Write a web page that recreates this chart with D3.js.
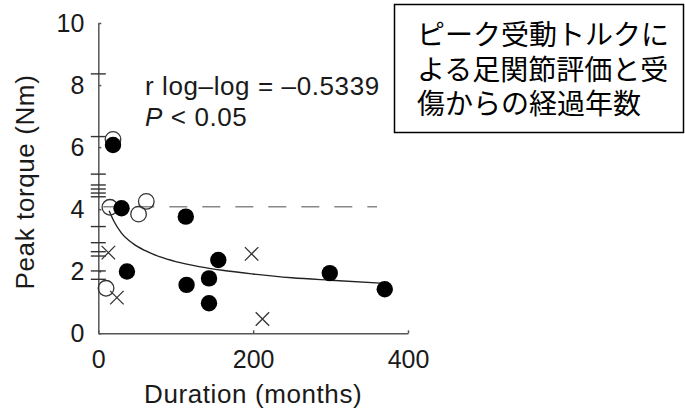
<!DOCTYPE html>
<html lang="ja">
<head>
<meta charset="UTF-8">
<title>Peak torque vs duration</title>
<style>
    body { margin: 0; background: #fff; }
    svg { display: block; }
    .axis text { font-family: "Liberation Sans", Arial, sans-serif; font-size: 25px; fill: #1a1a1a; }
    .axis path, .axis line { stroke: #555; stroke-width: 1.5; }
    .lab { font-family: "Liberation Sans", Arial, sans-serif; font-size: 26px; letter-spacing: 0.6px; fill: #1a1a1a; }
</style>
</head>
<body>
<script src="https://cdn.jsdelivr.net/npm/d3@7/dist/d3.min.js"></script>
<script>
    // values
    var xTicks = [0, 200, 400];
    var yTicks = [0, 2, 4, 6, 8, 10];

    var filledX = [19, 30, 113, 37, 114, 143, 143, 155, 299, 370];
    var filledY = [6.07, 4.03, 3.76, 1.99, 1.56, 1.77, 0.97, 2.36, 1.94, 1.42];

    var openX = [19, 15, 52, 62, 10];
    var openY = [6.25, 4.06, 3.84, 4.25, 1.45];

    var crossX = [13, 24, 198, 212];
    var crossY = [2.6, 1.15, 2.56, 0.46];

    // short horizontal marks sitting on the y axis
    var dashY = [8.36, 6.34, 5.13, 4.78, 4.65, 4.52, 4.40, 3.44, 2.92, 2.63, 2.49, 2.01, 1.74];

    var refLevel = 4.08;
    var refEnd = 360;

    var fitX = [14, 20, 30, 45, 60, 80, 100, 130, 160, 200, 250, 300, 370];
    var fitY = [3.95, 3.62, 3.23, 2.89, 2.67, 2.46, 2.31, 2.15, 2.03, 1.91, 1.79, 1.71, 1.61];

    var titleLines = ["ピーク受動トルクに", "よる足関節評価と受", "傷からの経過年数"];

    var w = 685, h = 408;
    var svg = d3.select("body").append("svg").attr("width", w).attr("height", h);
    svg.append("rect").attr("width", w).attr("height", h).attr("fill", "#fff");

    var x = d3.scaleLinear().domain([0, 400]).range([98.3, 408]);
    var y = d3.scaleLinear().domain([0, 10]).range([333.3, 23]);

    svg.append("g").attr("class", "axis")
        .attr("transform", "translate(0," + y(0) + ")")
        .call(d3.axisBottom(x).tickValues(xTicks).tickSizeInner(-3).tickSizeOuter(0).tickPadding(17));
    svg.append("g").attr("class", "axis")
        .attr("transform", "translate(" + x(0) + ",0)")
        .call(d3.axisLeft(y).tickValues(yTicks).tickSizeInner(-3).tickSizeOuter(0).tickPadding(14));

    // axis titles
    svg.append("text")
        .attr("class", "lab")
        .attr("x", x(200)).attr("y", 403)
        .attr("text-anchor", "middle")
        .text("Duration (months)");
    svg.append("text")
        .attr("class", "lab")
        .attr("transform", "translate(34,182) rotate(-90)")
        .attr("text-anchor", "middle")
        .text("Peak torque (Nm)");

    // dash marks on the axis
    svg.selectAll("line.dash")
        .data(dashY)
        .enter()
        .append("line")
        .attr("class", "dash")
        .attr("x1", x(0) - 7.5).attr("x2", x(0) + 7.5)
        .attr("y1", function(d){ return y(d); })
        .attr("y2", function(d){ return y(d); })
        .attr("stroke", "#333").attr("stroke-width", 1.4);

    // reference level
    svg.append("line")
        .attr("x1", x(0)).attr("x2", x(refEnd))
        .attr("y1", y(refLevel)).attr("y2", y(refLevel))
        .attr("stroke", "#888").attr("stroke-width", 1.5)
        .attr("stroke-dasharray", "18,15")
        .attr("stroke-dashoffset", -5);

    // fitted curve
    var fit = d3.zip(fitX, fitY);
    svg.append("path")
        .datum(fit)
        .attr("d", d3.line()
            .x(function(d){ return x(d[0]); })
            .y(function(d){ return y(d[1]); })
            .curve(d3.curveMonotoneX))
        .attr("fill", "none").attr("stroke", "#222").attr("stroke-width", 1.4);

    // open circles
    svg.selectAll("circle.open")
        .data(d3.zip(openX, openY))
        .enter()
        .append("circle")
        .attr("class", "open")
        .attr("cx", function(d){ return x(d[0]); })
        .attr("cy", function(d){ return y(d[1]); })
        .attr("r", 7.8)
        .attr("fill", "none").attr("stroke", "#333").attr("stroke-width", 1.3);

    // crosses
    var cross = d3.symbol().type(d3.symbolX).size(120);
    svg.selectAll("path.cross")
        .data(d3.zip(crossX, crossY))
        .enter()
        .append("path")
        .attr("class", "cross")
        .attr("d", cross)
        .attr("transform", function(d){ return "translate(" + x(d[0]) + "," + y(d[1]) + ")"; })
        .attr("fill", "none").attr("stroke", "#333").attr("stroke-width", 1.3);

    // filled circles
    svg.selectAll("circle.filled")
        .data(d3.zip(filledX, filledY))
        .enter()
        .append("circle")
        .attr("class", "filled")
        .attr("cx", function(d){ return x(d[0]); })
        .attr("cy", function(d){ return y(d[1]); })
        .attr("r", 8.2)
        .attr("fill", "#000");

    // statistics
    svg.append("text").attr("class", "lab").attr("x", 145).attr("y", 95)
        .text("r log\u2013log = \u20130.5339");
    var p = svg.append("text").attr("class", "lab").attr("x", 145).attr("y", 126);
    p.append("tspan").attr("font-style", "italic").text("P");
    p.append("tspan").text(" < 0.05");

    // title box, one text block with a line per tspan
    svg.append("rect")
        .attr("x", 394.5).attr("y", 4.5)
        .attr("width", 289).attr("height", 128)
        .attr("fill", "#fff").attr("stroke", "#000").attr("stroke-width", 1.5);
    var title = svg.append("text")
        .attr("x", 417).attr("y", 45)
        .attr("font-family", "Noto Sans CJK JP, sans-serif")
        .attr("font-size", 28).attr("fill", "#000");
    title.selectAll("tspan")
        .data(titleLines)
        .enter()
        .append("tspan")
        .attr("x", 417)
        .attr("dy", function(d, i){ return i === 0 ? 0 : 34.5; })
        .text(function(d){ return d; });
</script>
</body>
</html>
